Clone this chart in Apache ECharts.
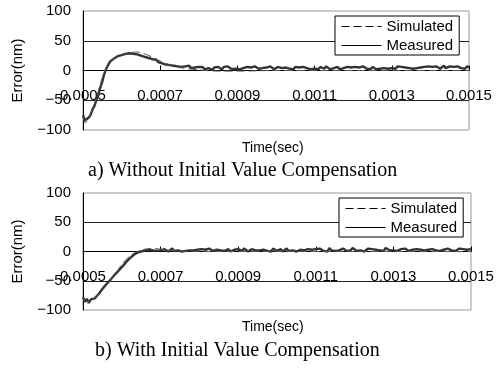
<!DOCTYPE html>
<html>
<head>
<meta charset="utf-8">
<script src="https://cdn.jsdelivr.net/npm/echarts@6/dist/echarts.min.js"></script>
<style>
  html, body { margin: 0; padding: 0; background: #fff; }
  #chart { width: 502px; height: 368px; }
</style>
</head>
<body>
<div id="chart"></div>
<script>
// x axis ticks (sec)
const timeTicks = [0.0005, 0.0007, 0.0009, 0.0011, 0.0013, 0.0015];
const errorTicks = [-100, -50, 0, 50, 100];

// measured samples, one every 5 us from 0.0005 s
const sampleStart = 0.0005;
const sampleStep = 0.000005;

const measuredA = [
  -75, -84, -86, -79, -74, -65, -59, -49, -41, -28, -19, -6, 3, 9, 15, 16, 20, 19, 24, 22, 26, 24, 28, 25, 29, 26, 28, 25,
  27, 24, 25, 22, 23, 20, 21, 18, 19, 16, 18, 14, 15,
  12, 14, 10, 12, 9, 11, 8, 10, 7, 9, 6, 8, 7, 5, 8, 4, 6, 5, 3, 6,
  3, 6, 2, 5, 4, 7, 1, 5, 3, 6,
  4, 2, 6, 3, 7, 4, 2, 5, 3, 6,
  2, 5, 4, 1, 6, 3, 5, 2, 7, 4,
  3, 6, 4, 2, 5, 3, 7, 4, 2, 5,
  6, 3, 4, 1, 5, 7, 3, 4, 2, 6,
  4, 5, 2, 6, 3, 4, 7, 2, 5, 3,
  5, 2, 6, 4, 3, 7, 4, 2, 5, 4,
  3, 6, 2, 5, 4, 1, 6, 3, 5, 4,
  6, 3, 5, 2, 7, 4, 3, 5, 2, 6,
  4, 2, 5, 3, 6, 4, 7, 3, 5, 4,
  5, 3, 7, 4, 6, 3, 5, 8, 4, 6,
  3, 6, 4, 7, 5, 3, 6, 4, 7, 5,
  6, 4, 7, 5, 3, 6, 8, 4, 5, 7,
  4, 6, 3, 7, 5, 4, 6, 3, 7, 5
];

const measuredB = [
  -78, -86, -81, -88, -82, -85, -80, -79, -73, -70, -64, -62, -56, -54, -49, -47, -41, -39, -34, -32,
  -27, -25, -19, -18, -12, -11, -6, -6, -2, -3, 0, -1, 2, 0, 3, 1, 2, 4, 1, 3, 2,
  1, 4, 2, 0, 3, 5, 1, 3, 2, 4,
  0, 3, 1, 4, 2, 5, 2, 0, 3, 1,
  4, 2, 3, 0, 5, 2, 1, 4, 3, 0,
  2, 5, 1, 3, 4, 0, 2, 3, 1, 4,
  3, 1, 5, 2, 0, 3, 4, 1, 2, 5,
  2, 0, 3, 4, 1, 3, 0, 5, 2, 1,
  3, 4, 0, 2, 5, 1, 3, 2, 4, 0,
  1, 3, 5, 2, 0, 4, 2, 3, 1, 4,
  2, 5, 3, 1, 4, 0, 6, 2, 3, 1,
  4, 2, 0, 5, 3, 1, 4, 2, 6, 3,
  1, 4, 2, 5, 0, 3, 5, 2, 4, 1,
  3, 5, 2, 4, 1, 6, 3, 2, 4, 2,
  5, 1, 3, 4, 2, 5, 3, 1, 4, 3,
  2, 4, 1, 3, 5, 2, 4, 3, 1, 4,
  3, 2, 5, 1, 4, 3, 2, 5, 3, 2,
  4, 1, 3, 5, 2, 4, 1, 3, 2, 4
];

// simulated curves
const simTimeA = [0.0005, 0.000506, 0.00052, 0.000535, 0.00055, 0.00056, 0.00057, 0.00058, 0.0006, 0.00062, 0.00064,
  0.00066, 0.00068, 0.0007, 0.00072, 0.00075, 0.0008, 0.00085, 0.0009, 0.001, 0.0011, 0.0012, 0.0013, 0.0014, 0.0015];
const simValuesA = [-80, -88, -72, -45, -12, 5, 15, 21, 27, 30, 31, 28, 22, 16, 10, 5, 1, -1, -1, 0, 0, 0, 0, 0, 0];

const simTimeB = [0.0005, 0.00051, 0.00053, 0.00055, 0.00058, 0.0006, 0.00062, 0.00064, 0.00066, 0.00068, 0.0007,
  0.00072, 0.00075, 0.0008, 0.001, 0.0012, 0.0015];
const simValuesB = [-80, -86, -80, -66, -42, -22, -8, 0, 4, 5, 4, 2, 1, 0, 0, 0, 0];

const captions = ["a) Without Initial Value Compensation", "b) With Initial Value Compensation"];

const sampled = (values) => values.map((v, i) => [sampleStart + i * sampleStep, v]);
const paired = (times, values) => times.map((t, i) => [t, values[i]]);

const sans = "Liberation Sans";
const serif = "Liberation Serif";

const chart = echarts.init(document.getElementById("chart"));

const grids = [
  { left: 83, right: 33, top: 11, height: 119 },
  { left: 83, right: 31, top: 193, height: 117 },
];

// labels sit under the zero line like the excel original, so pull them up from the grid bottom
const makeX = (gridIndex) => ({
  type: "value",
  gridIndex,
  min: timeTicks[0],
  max: timeTicks[timeTicks.length - 1],
  interval: timeTicks[1] - timeTicks[0],
  axisLine: { onZero: true, lineStyle: { color: "#000", width: 1 } },
  axisTick: { show: true, inside: true, length: 5, lineStyle: { color: "#000" } },
  axisLabel: {
    margin: 18 - grids[gridIndex].height / 2,
    color: "#000",
    fontFamily: sans,
    fontSize: 15,
    formatter: (v) => v.toFixed(4),
  },
  splitLine: { show: false },
});

const makeY = (gridIndex) => ({
  type: "value",
  gridIndex,
  min: errorTicks[0],
  max: errorTicks[errorTicks.length - 1],
  interval: errorTicks[1] - errorTicks[0],
  name: "Error(nm)",
  nameLocation: "middle",
  nameRotate: 90,
  nameGap: 58,
  nameTextStyle: { color: "#000", fontFamily: sans, fontSize: 15 },
  axisLine: { show: true, lineStyle: { color: "#000" } },
  axisTick: { show: false },
  axisLabel: {
    margin: 12,
    color: "#000",
    fontFamily: sans,
    fontSize: 15,
    formatter: (v) => String(v).replace("-", "\u2212"),
  },
  splitLine: { show: true, showMinLine: false, showMaxLine: false, lineStyle: { color: "#222", width: 1 } },
});

const makeLegend = (left, top) => ({
  left,
  top,
  orient: "vertical",
  data: ["Simulated", "Measured"],
  backgroundColor: "#fff",
  borderColor: "#000",
  borderWidth: 1,
  borderRadius: 0,
  padding: [3, 6, 2, 6],
  itemWidth: 40,
  itemHeight: 10,
  itemGap: 4,
  selectedMode: false,
  itemStyle: { color: "transparent", borderWidth: 0, opacity: 0 },
  lineStyle: { color: "#000", width: 1 },
  textStyle: { color: "#000", fontFamily: sans, fontSize: 15 },
});

const measuredStyle = { color: "#333", width: 2.4, type: "solid" };
const simStyle = { color: "#555", width: 1, type: [8, 4] };

chart.setOption({
  animation: false,
  backgroundColor: "#fff",
  title: [
    { text: "Time(sec)", left: 242, top: 141, padding: 0, textStyle: { fontFamily: sans, fontSize: 14, fontWeight: "normal", color: "#000" } },
    { text: captions[0], left: 88, top: 161, padding: 0, textStyle: { fontFamily: serif, fontSize: 20, fontWeight: "normal", color: "#000" } },
    { text: "Time(sec)", left: 242, top: 320, padding: 0, textStyle: { fontFamily: sans, fontSize: 14, fontWeight: "normal", color: "#000" } },
    { text: captions[1], left: 95, top: 341, padding: 0, textStyle: { fontFamily: serif, fontSize: 20, fontWeight: "normal", color: "#000" } },
  ],
  grid: grids.map((g) => ({ ...g, show: true, borderColor: "#999", borderWidth: 1, backgroundColor: "transparent" })),
  legend: [makeLegend(335, 16), makeLegend(339, 198)],
  xAxis: [makeX(0), makeX(1)],
  yAxis: [makeY(0), makeY(1)],
  series: [
    { name: "Measured", type: "line", xAxisIndex: 0, yAxisIndex: 0, showSymbol: false, symbol: "none", lineStyle: measuredStyle, itemStyle: { color: "#333" }, data: sampled(measuredA) },
    { name: "Simulated", type: "line", xAxisIndex: 0, yAxisIndex: 0, showSymbol: false, symbol: "none", smooth: 0.3, lineStyle: simStyle, itemStyle: { color: "#555" }, data: paired(simTimeA, simValuesA) },
    { name: "Measured", type: "line", xAxisIndex: 1, yAxisIndex: 1, showSymbol: false, symbol: "none", lineStyle: measuredStyle, itemStyle: { color: "#333" }, data: sampled(measuredB) },
    { name: "Simulated", type: "line", xAxisIndex: 1, yAxisIndex: 1, showSymbol: false, symbol: "none", smooth: 0.3, lineStyle: simStyle, itemStyle: { color: "#555" }, data: paired(simTimeB, simValuesB) },
  ],
});
</script>
</body>
</html>
